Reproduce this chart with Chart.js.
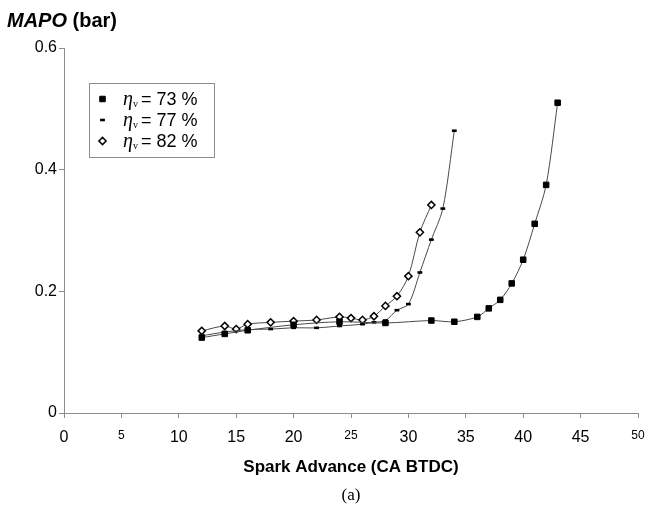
<!DOCTYPE html>
<html>
<head>
<meta charset="utf-8">
<script src="https://cdn.jsdelivr.net/npm/chart.js@4.4.1/dist/chart.umd.min.js"></script>
<style>
  html, body { margin: 0; padding: 0; background: #fff; }
  #wrap { width: 645px; height: 511px; position: relative; }
</style>
</head>
<body>
<div id="wrap"><canvas id="mapoChart" width="645" height="511"></canvas></div>
<script>
// Avance à l'allumage (deg vilebrequin avant PMH) et MAPO (bar) pour chaque rendement volumétrique
const seriesLabels = ['73', '77', '82'];

const advance73 = [12, 14, 16, 20, 24, 28, 32, 34, 36, 37, 38, 39, 40, 41, 42, 43];
const mapo73 = [0.124, 0.130, 0.136, 0.145, 0.150, 0.148, 0.152, 0.150, 0.158, 0.172, 0.186, 0.213, 0.252, 0.311, 0.375, 0.510];

const advance77 = [12, 14, 16, 18, 20, 22, 24, 26, 27, 28, 29, 30, 31, 32, 33, 34];
const mapo77 = [0.127, 0.133, 0.137, 0.138, 0.140, 0.140, 0.143, 0.146, 0.149, 0.152, 0.169, 0.179, 0.231, 0.285, 0.336, 0.464];

const advance82 = [12, 14, 15, 16, 18, 20, 22, 24, 25, 26, 27, 28, 29, 30, 31, 32];
const mapo82 = [0.135, 0.143, 0.138, 0.146, 0.149, 0.151, 0.153, 0.158, 0.156, 0.153, 0.159, 0.176, 0.192, 0.225, 0.297, 0.342];

const xTicks = [0, 5, 10, 15, 20, 25, 30, 35, 40, 45, 50];
const smallTicks = [5, 25, 50];   // ces étiquettes sont plus petites sur l'original

const yTitleBold = 'MAPO';
const yTitleRest = ' (bar)';
const xTitle = 'Spark Advance (CA BTDC)';
const caption = '(a)';

const axisGray = '#8c8c8c';
const lineGray = '#4a4a4a';

function toPoints(xs, ys) {
    return xs.map((x, i) => ({ x: x, y: ys[i] }));
}

// styles des marqueurs (aussi utilisés par la légende)
const markerStyles = [
    { pointStyle: 'rect', radius: 3.9, borderWidth: 1, backgroundColor: '#000', borderColor: '#000' },
    { pointStyle: 'line', radius: 2.4, borderWidth: 2.6, backgroundColor: '#000', borderColor: '#000' },
    { pointStyle: 'rectRot', radius: 3.6, borderWidth: 1.5, backgroundColor: '#fff', borderColor: '#000' }
];

function makeDataset(xs, ys, idx) {
    const m = markerStyles[idx];
    return {
        label: seriesLabels[idx],
        data: toPoints(xs, ys),
        showLine: true,
        borderColor: lineGray,
        borderWidth: 1,
        tension: 0.3,
        pointStyle: m.pointStyle,
        pointRadius: m.radius,
        pointBorderWidth: m.borderWidth,
        pointBackgroundColor: m.backgroundColor,
        pointBorderColor: m.borderColor
    };
}

// Titres, légende et légende de figure dessinés à la main
const extrasPlugin = {
    id: 'extras',
    afterDraw(chart) {
        const ctx = chart.ctx;
        ctx.save();
        ctx.fillStyle = '#000';
        ctx.textBaseline = 'alphabetic';
        ctx.textAlign = 'left';

        // titre de l'axe Y en haut à gauche
        ctx.font = 'italic bold 20px "Liberation Sans", Arial, sans-serif';
        ctx.fillText(yTitleBold, 7, 27);
        const w = ctx.measureText(yTitleBold).width;
        ctx.font = 'bold 20px "Liberation Sans", Arial, sans-serif';
        ctx.fillText(yTitleRest, 7 + w, 27);

        // légende
        ctx.strokeStyle = axisGray;
        ctx.lineWidth = 1;
        ctx.strokeRect(89.5, 83.5, 125, 74);
        const rowsY = [99, 120, 141];
        seriesLabels.forEach((lab, i) => {
            const m = markerStyles[i];
            ctx.fillStyle = m.backgroundColor;
            ctx.strokeStyle = m.borderColor;
            ctx.lineWidth = m.borderWidth;
            Chart.helpers.drawPoint(ctx, { pointStyle: m.pointStyle, radius: m.radius, borderWidth: m.borderWidth, rotation: 0 }, 102.5, rowsY[i]);
            ctx.fillStyle = '#000';
            const base = rowsY[i] + 6;
            let x = 123;
            ctx.font = 'italic 20px "Liberation Serif", "Times New Roman", serif';
            ctx.fillText('η', x, base);
            x += ctx.measureText('η').width;
            ctx.font = '10px "Liberation Serif", "Times New Roman", serif';
            ctx.fillText('v', x, base + 2);
            x += ctx.measureText('v').width + 3;
            ctx.font = '18px "Liberation Sans", Arial, sans-serif';
            ctx.fillText('= ' + lab + ' %', x, base);
        });

        // légende de la figure
        ctx.textAlign = 'center';
        ctx.font = '17px "Liberation Serif", "Times New Roman", serif';
        ctx.fillText(caption, 351, 500);
        ctx.restore();
    }
};

const chart = new Chart(document.getElementById('mapoChart').getContext('2d'), {
    type: 'scatter',
    data: {
        datasets: [
            makeDataset(advance73, mapo73, 0),
            makeDataset(advance77, mapo77, 1),
            makeDataset(advance82, mapo82, 2)
        ]
    },
    options: {
        responsive: false,
        animation: false,
        devicePixelRatio: 1,
        layout: { padding: { top: 48, right: 7, left: 0, bottom: 0 } },
        plugins: {
            legend: { display: false },
            tooltip: { enabled: false }
        },
        scales: {
            x: {
                type: 'linear',
                min: 0,
                max: 50,
                afterFit: scale => {
                    scale.height = 98;
                    scale.paddingRight = 0;
                    scale.paddingLeft = 0;
                },
                afterBuildTicks: scale => { scale.ticks = xTicks.map(v => ({ value: v })); },
                ticks: {
                    color: '#000',
                    padding: 10,
                    maxRotation: 0,
                    font: c => smallTicks.includes(c.tick && c.tick.value)
                        ? { family: '"Liberation Sans", Arial, sans-serif', size: 12 }
                        : { family: '"Liberation Sans", Arial, sans-serif', size: 16 }
                },
                grid: { drawOnChartArea: false, drawTicks: true, tickLength: 5, color: axisGray },
                border: { color: axisGray, width: 1 },
                title: {
                    display: true,
                    text: xTitle,
                    color: '#000',
                    font: { family: '"Liberation Sans", Arial, sans-serif', size: 17, weight: 'bold' },
                    padding: { top: 0, bottom: 33 }
                }
            },
            y: {
                type: 'linear',
                min: 0,
                max: 0.6,
                afterFit: scale => { scale.width = 64; },
                ticks: {
                    stepSize: 0.2,
                    color: '#000',
                    padding: 2,
                    font: { family: '"Liberation Sans", Arial, sans-serif', size: 16 }
                },
                grid: { drawOnChartArea: false, drawTicks: true, tickLength: 5, color: axisGray },
                border: { color: axisGray, width: 1 }
            }
        }
    },
    plugins: [extrasPlugin]
});
</script>
</body>
</html>
